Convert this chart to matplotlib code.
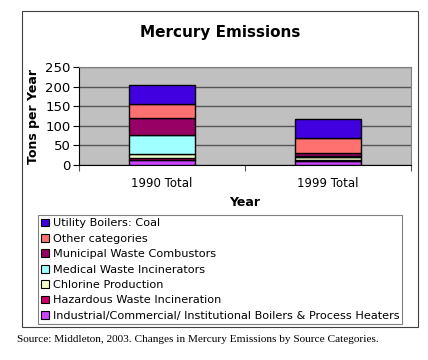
import matplotlib
matplotlib.use("Agg")
import matplotlib.pyplot as plt
from matplotlib.patches import Rectangle, Patch
import numpy as np

# chart data (tons per year)
years = ["1990 Total", "1999 Total"]
categories = [
    "Industrial/Commercial/ Institutional Boilers & Process Heaters",
    "Hazardous Waste Incineration",
    "Chlorine Production",
    "Medical Waste Incinerators",
    "Municipal Waste Combustors",
    "Other categories",
    "Utility Boilers: Coal",
]
industrial = [12, 9]
hazardous = [5, 5]
chlorine = [11, 7]
medical = [49, 3]
municipal = [42, 6]
other = [37, 38]
utility = [49, 50]
series = [industrial, hazardous, chlorine, medical, municipal, other, utility]
colors = ["#CC44FF", "#CC0066", "#F0FFC8", "#A0FFFF", "#990066", "#FF7070", "#4000E0"]
yticks = [0, 50, 100, 150, 200, 250]

W, H = 428, 360
fig = plt.figure(figsize=(W / 100, H / 100), dpi=100)

def fx(px):
    return px / W

def fy(py):
    return 1 - py / H

# outer chart border
fig.patches.append(Rectangle((fx(22), fy(327)), fx(418) - fx(22), fy(11) - fy(327),
                             transform=fig.transFigure, fill=False,
                             edgecolor="#404040", linewidth=0.8))

ax = fig.add_axes([fx(79), fy(165), fx(411) - fx(79), fy(67) - fy(165)])
ax.set_facecolor("#C0C0C0")

x = np.arange(len(years))
bottom = np.zeros(len(years))
for vals, col in zip(series, colors):
    ax.bar(x, vals, width=0.4, bottom=bottom, color=col, edgecolor="black",
           linewidth=1, zorder=3)
    bottom += np.array(vals)

ax.set_xlim(-0.5, 1.5)
ax.set_ylim(0, 250)
ax.set_yticks(yticks)
ax.tick_params(axis="y", labelsize=9.5, length=4, width=0.8, pad=2)
ax.yaxis.grid(True, color="#555555", linewidth=1, zorder=0)
ax.set_axisbelow(True)

ax.set_xticks([-0.5, 0.5, 1.5])
ax.set_xticklabels([])
ax.tick_params(axis="x", which="major", length=4, width=0.8, color="#555555")
ax.set_xticks(x, minor=True)
ax.set_xticklabels(years, minor=True, fontsize=8.5)
ax.tick_params(axis="x", which="minor", length=0, pad=9)

for s in ["top", "right"]:
    ax.spines[s].set_color("#808080")
ax.spines["left"].set_color("black")
ax.spines["bottom"].set_color("black")

ax.set_ylabel("Tons per Year", fontsize=9, fontweight="bold", labelpad=4)
ax.set_xlabel("Year", fontsize=9, fontweight="bold", labelpad=4)
fig.text(fx(220), fy(32), "Mercury Emissions", ha="center", va="center",
         fontsize=11, fontweight="bold")

handles = [Patch(facecolor=c, edgecolor="black", linewidth=0.8, label=l)
           for c, l in zip(colors[::-1], categories[::-1])]
leg = fig.legend(handles=handles, loc="upper left",
                 bbox_to_anchor=(fx(38), fy(324), fx(402) - fx(38), fy(215) - fy(324)),
                 mode="expand", fontsize=8.1, frameon=True, fancybox=False,
                 edgecolor="#606060", handlelength=0.7, handleheight=0.7,
                 handletextpad=0.3, labelspacing=0.48, borderpad=0.3,
                 borderaxespad=0)
leg.get_frame().set_linewidth(0.8)

fig.text(fx(17), fy(340), "Source: Middleton, 2003. Changes in Mercury Emissions by Source Categories.",
         ha="left", va="center", fontsize=8.1, family="Liberation Serif")

fig.savefig("out.png", dpi=100)
